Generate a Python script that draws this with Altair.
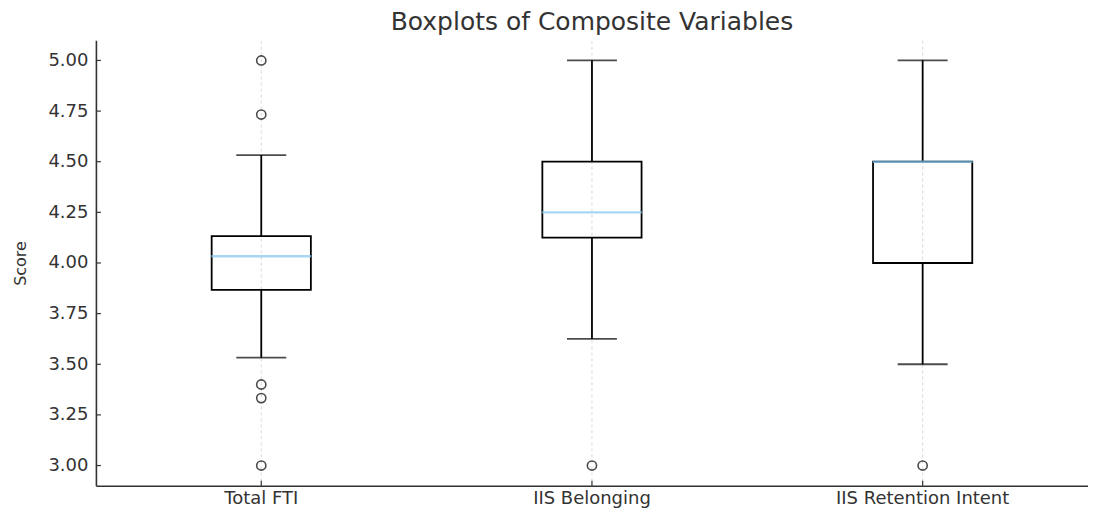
import altair as alt
import pandas as pd

# ---- data ----
categories = ["Total FTI", "IIS Belonging", "IIS Retention Intent"]
whisker_low = [3.533, 3.625, 3.5]
q1 = [3.867, 4.125, 4.0]
median = [4.033, 4.25, 4.5]
q3 = [4.133, 4.5, 4.5]
whisker_high = [4.533, 5.0, 5.0]

outlier_cat = ["Total FTI", "Total FTI", "Total FTI", "Total FTI", "Total FTI",
               "IIS Belonging", "IIS Retention Intent"]
outlier_val = [5.0, 4.733, 3.4, 3.333, 3.0, 3.0, 3.0]

y_ticks = [3.0, 3.25, 3.5, 3.75, 4.0, 4.25, 4.5, 4.75, 5.0]

box_df = pd.DataFrame({"cat": categories, "lo": whisker_low, "q1": q1,
                       "med": median, "q3": q3, "hi": whisker_high})
out_df = pd.DataFrame({"cat": outlier_cat, "v": outlier_val})
ytick_df = pd.DataFrame({"v": y_ticks})
xtick_df = pd.DataFrame({"cat": categories})

# ---- style ----
W, H = 993, 446
FONT = "DejaVu Sans"
TXT = "#333333"
SPINE = "#333333"
MEDIAN = "#82c6ef"
LW = 1.8

x_enc = alt.X(
    "cat:N", sort=categories,
    scale=alt.Scale(domain=categories, paddingInner=0, paddingOuter=0),
    axis=alt.Axis(title=None, labelAngle=0, ticks=False, grid=True,
                  gridDash=[3, 3], gridColor="#cfcfcf", gridWidth=0.8,
                  bandPosition=0.5, domainColor=SPINE, domainWidth=1.6,
                  labelFont=FONT, labelFontSize=18, labelColor=TXT,
                  labelPadding=4),
)
y_scale = alt.Scale(domain=[2.9, 5.1], nice=False, zero=False)
y_axis = alt.Axis(title="Score", values=y_ticks, format=".2f", ticks=False,
                  grid=False, domainColor=SPINE, domainWidth=1.6,
                  labelFont=FONT, labelFontSize=18, labelColor=TXT,
                  labelPadding=8, titleFont=FONT, titleFontSize=16,
                  titleFontWeight="normal", titleColor=TXT, titlePadding=18,
                  minExtent=49, maxExtent=49)


def Y(field):
    return alt.Y(field + ":Q", scale=y_scale, axis=y_axis)


base = alt.Chart(box_df)

whisk_lo = base.mark_rule(color="black", strokeWidth=LW).encode(
    x=x_enc, y=Y("lo"), y2="q1")
whisk_hi = base.mark_rule(color="black", strokeWidth=LW).encode(
    x=x_enc, y=Y("q3"), y2="hi")
cap_lo = base.mark_tick(color="black", size=50, thickness=LW).encode(
    x=x_enc, y=Y("lo"))
cap_hi = base.mark_tick(color="black", size=50, thickness=LW).encode(
    x=x_enc, y=Y("hi"))
box = base.mark_bar(width=alt.RelativeBandSize(0.3), fill="transparent",
                    stroke="black", strokeWidth=LW).encode(
    x=x_enc, y=Y("q1"), y2="q3")
med = base.mark_tick(color=MEDIAN, size=100, thickness=2.4).encode(
    x=x_enc, y=Y("med"))
outl = alt.Chart(out_df).mark_point(shape="circle", filled=False,
                                    color="black", strokeWidth=1.6,
                                    size=85).encode(x=x_enc, y=Y("v"))

# inward tick marks (matplotlib "in" direction)
ytk = alt.Chart(ytick_df).mark_rule(color=SPINE, strokeWidth=1.2).encode(
    y=Y("v"), x=alt.value(0), x2=alt.value(5))
xtk = alt.Chart(xtick_df).mark_rule(color=SPINE, strokeWidth=1.2).encode(
    x=x_enc, y=alt.value(H), y2=alt.value(H - 5))

chart = alt.layer(whisk_lo, whisk_hi, cap_lo, cap_hi, box, med, outl, ytk, xtk).properties(
    width=W, height=H,
    padding={"left": 5, "top": 2, "right": 0, "bottom": 0},
    background="white",
    title=alt.TitleParams("Boxplots of Composite Variables", font=FONT,
                          fontSize=25, fontWeight="normal", color=TXT,
                          anchor="middle", offset=5),
).configure_view(strokeWidth=0)

chart.save("out.html", embed_options={"renderer": "svg", "actions": False})
